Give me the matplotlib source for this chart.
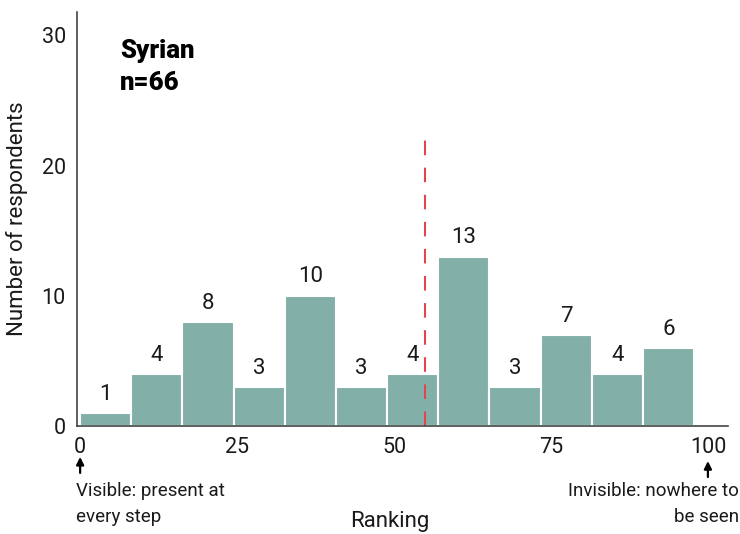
import matplotlib.pyplot as plt

# Syrian respondents, histogram of ranking scores
counts = [1, 4, 8, 3, 10, 3, 4, 13, 3, 7, 4, 6]
bin_width = 8.15
threshold = 55
xticks = [0, 25, 50, 75, 100]
yticks = [0, 10, 20, 30]

bar_color = '#83afa9'
line_color = '#e0474c'
txt = '#1a1a1a'

plt.rcParams['font.family'] = ['Roboto', 'DejaVu Sans']

fig = plt.figure(figsize=(7.4, 5.34), dpi=100)
ax = fig.add_axes([77 / 740, 108 / 534, 651 / 740, 414 / 534])

lefts = [i * bin_width for i in range(len(counts))]
ax.bar(lefts, counts, width=bin_width, align='edge', color=bar_color,
       edgecolor='white', linewidth=1.5)

for x, c in zip(lefts, counts):
    ax.annotate(str(c), (x + bin_width / 2, c), xytext=(0, 6),
                textcoords='offset points', ha='center', va='bottom',
                fontsize=16, color=txt)

ax.vlines(threshold, 0, 22, colors=line_color, linewidth=1.5,
          linestyles=(0, (7, 6)))

ax.set_xlim(-0.5, 103.2)
ax.set_ylim(0, 31.8)
ax.set_xticks(xticks)
ax.set_yticks(yticks)
ax.tick_params(length=0, labelsize=15.5, colors=txt, pad=8)
for s in ['top', 'right']:
    ax.spines[s].set_visible(False)
for s in ['left', 'bottom']:
    ax.spines[s].set_color('#444444')
    ax.spines[s].set_linewidth(1.2)

ax.set_ylabel('Number of respondents', fontsize=16, color=txt, labelpad=10)
fig.text(390 / 740, 1 - 521 / 534, 'Ranking', fontsize=16, color=txt,
         ha='center', va='center')

ax.text(0.066, 0.935, 'Syrian\nn=66', transform=ax.transAxes, fontsize=18.5,
        fontweight='heavy', family=['Roboto', 'DejaVu Sans'], va='top',
        ha='left', linespacing=1.4, color='black')

# end-point notes
ax.annotate('', xy=(0, -0.068), xycoords=('data', 'axes fraction'),
            xytext=(0, -0.12), arrowprops=dict(arrowstyle='-|>', color='black',
                                               lw=1.6, mutation_scale=11))
ax.annotate('', xy=(100, -0.078), xycoords=('data', 'axes fraction'),
            xytext=(100, -0.13), arrowprops=dict(arrowstyle='-|>', color='black',
                                                 lw=1.6, mutation_scale=11))
fig.text(76 / 740, 1 - 482 / 534, 'Visible: present at\nevery step',
         fontsize=13.5, color=txt, va='top', ha='left', linespacing=1.55)
fig.text(739 / 740, 1 - 482 / 534, 'Invisible: nowhere to\nbe seen',
         fontsize=13.5, color=txt, va='top', ha='right', linespacing=1.55,
         multialignment='right')

fig.savefig('out.png', dpi=100)
